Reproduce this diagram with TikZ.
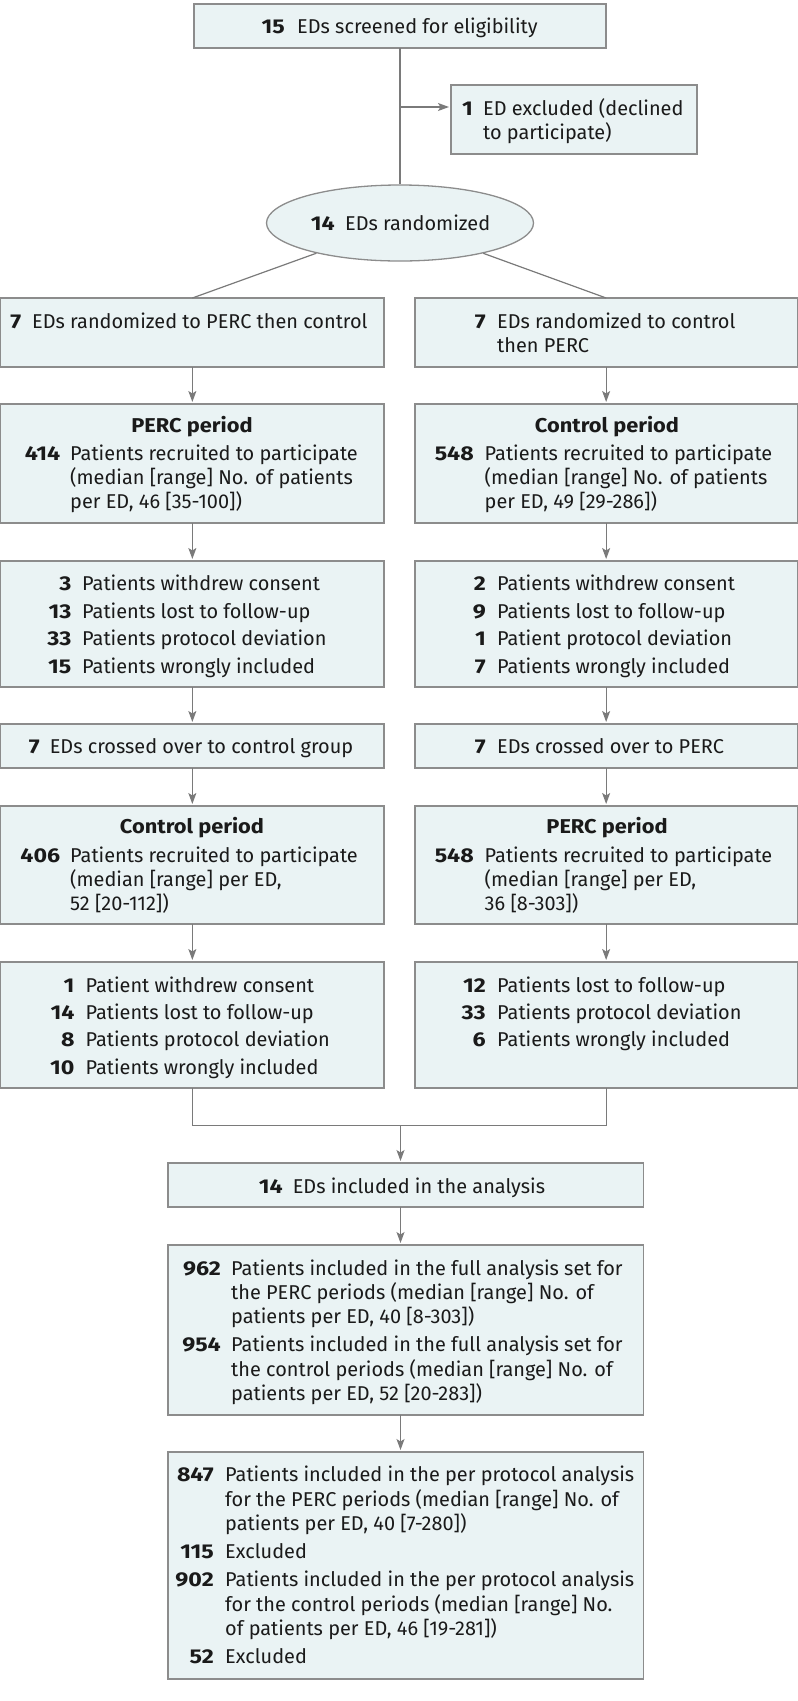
\documentclass[tikz,border=0pt]{standalone}
\usepackage{fontspec}
\setmainfont{Fira Sans}[FakeStretch=0.995]
\newfontfamily\numfont{Fira Sans}[FakeStretch=1.16]
\newfontfamily\ttlfont{Fira Sans}[FakeStretch=1.09]
\usetikzlibrary{arrows.meta,shapes.geometric}
\definecolor{boxfill}{HTML}{EAF3F4}
\definecolor{boxline}{HTML}{8C8C8C}
\definecolor{connc}{HTML}{7A7A7A}
\definecolor{ink}{HTML}{1A1A1A}
\tikzset{
 box/.style={draw=boxline, fill=boxfill, line width=1.3pt, inner sep=0pt, outer sep=0pt, anchor=north west},
 num/.style={font=\fontsize{20}{24.4}\selectfont\numfont\bfseries, text=ink, inner sep=0pt, anchor=base east},
 txt/.style={font=\fontsize{20}{24.4}\selectfont, text=ink, inner sep=0pt, anchor=base west},
 ttl/.style={font=\fontsize{20}{24.4}\selectfont\ttlfont\bfseries, text=ink, inner sep=0pt, anchor=base},
 conn/.style={draw=connc, line width=1.2pt},
 arr/.style={conn, -{Stealth[length=11pt,width=8pt,inset=2.5pt]}, shorten >=2pt},
}
\newcommand\mybox[5]{\node[box, minimum width=#4pt, minimum height=#5pt] (#1) at (#2,#3) {};}
\newcommand\myentry[6]{\node[num] (#1n) at (#2,#4) {#5};
  \node[txt] (#1t) at (#3,#4) {\begin{tabular}[t]{@{}l@{}}#6\end{tabular}};}
\begin{document}
\begin{tikzpicture}[x=1pt,y=-1pt]
\useasboundingbox (0,0) rectangle (798,1701);
% boxes
\mybox{top}{194}{4}{412}{44}
\mybox{excl}{451}{85}{246}{69}
\node[draw=boxline, fill=boxfill, line width=1.3pt, ellipse, minimum width=267pt, minimum height=76pt, inner sep=0pt] (rand) at (400,223) {};
\mybox{L1}{0.7}{298}{383.3}{69}
\mybox{R1}{415}{298}{382.3}{69}
\mybox{L2}{0.7}{404}{383.3}{119}
\mybox{R2}{415}{404}{382.3}{119}
\mybox{L3}{0.7}{561}{383.3}{126}
\mybox{R3}{415}{561}{382.3}{126}
\mybox{L4}{0.7}{724}{383.3}{44}
\mybox{R4}{415}{724}{382.3}{44}
\mybox{L5}{0.7}{806}{383.3}{118}
\mybox{R5}{415}{806}{382.3}{118}
\mybox{L6}{0.7}{962}{383.3}{126}
\mybox{R6}{415}{962}{382.3}{126}
\mybox{A}{168}{1163}{475.5}{44}
\mybox{B}{168}{1245}{475.5}{170}
\mybox{C}{168}{1452}{475.5}{227}
% connectors
\coordinate (m) at (400.5,1125.5);
\coordinate (br) at (400,107);
\draw[conn] (top.south) -- (rand.north);
\draw[arr] (br) -- (br -| excl.west);
\draw[conn] (rand) -- (L1.north);
\draw[conn] (rand) -- (R1.north);
\draw[arr] (L1) -- (L2);
\draw[arr] (L2) -- (L3);
\draw[arr] (L3) -- (L4);
\draw[arr] (L4) -- (L5);
\draw[arr] (L5) -- (L6);
\draw[arr] (R1) -- (R2);
\draw[arr] (R2) -- (R3);
\draw[arr] (R3) -- (R4);
\draw[arr] (R4) -- (R5);
\draw[arr] (R5) -- (R6);
\draw[conn] (L6.south) |- (m) -| (R6.south);
\draw[arr] (m) -- (m |- A.north);
\draw[arr] (m |- A.south) -- (m |- B.north);
\draw[arr] (m |- B.south) -- (m |- C.north);
% texts
\myentry{top}{285}{297}{33}{15}{EDs screened for eligibility}
\myentry{excl}{473}{483}{115}{1}{ED excluded (declined\\to participate)}
\myentry{rand}{335}{345}{230}{14}{EDs randomized}
\myentry{L1}{21.5}{32}{328}{7}{EDs randomized to PERC then control}
\myentry{R1}{486}{497}{328}{7}{EDs randomized to control\\then PERC}
\node[ttl] (L2h) at (192,432) {PERC period};
\myentry{L2}{60.4}{70}{460}{414}{Patients recruited to participate\\(median [range] No. of patients\\per ED, 46 [35-100])}
\node[ttl] (R2h) at (607,432) {Control period};
\myentry{R2}{474}{484.5}{460}{548}{Patients recruited to participate\\(median [range] No. of patients\\per ED, 49 [29-286])}
\myentry{L3a}{71.6}{82}{590.7}{3}{Patients withdrew consent}
\myentry{L3b}{71.6}{82}{618.2}{13}{Patients lost to follow-up}
\myentry{L3c}{71.6}{82}{645.7}{33}{Patients protocol deviation}
\myentry{L3d}{71.6}{82}{673.2}{15}{Patients wrongly included}
\myentry{R3a}{486}{497}{590.7}{2}{Patients withdrew consent}
\myentry{R3b}{486}{497}{618.2}{9}{Patients lost to follow-up}
\myentry{R3c}{486}{497}{645.7}{1}{Patient protocol deviation}
\myentry{R3d}{486}{497}{673.2}{7}{Patients wrongly included}
\myentry{L4}{40}{49.6}{753}{7}{EDs crossed over to control group}
\myentry{R4}{486}{497}{753}{7}{EDs crossed over to PERC}
\node[ttl] (L5h) at (192,833) {Control period};
\myentry{L5}{60.4}{70}{862}{406}{Patients recruited to participate\\(median [range] per ED,\\52 [20-112])}
\node[ttl] (R5h) at (607,833) {PERC period};
\myentry{R5}{474}{484.5}{862}{548}{Patients recruited to participate\\(median [range] per ED,\\36 [8-303])}
\myentry{L6a}{74.7}{85.4}{992}{1}{Patient withdrew consent}
\myentry{L6b}{74.7}{85.4}{1019.3}{14}{Patients lost to follow-up}
\myentry{L6c}{74.7}{85.4}{1046.6}{8}{Patients protocol deviation}
\myentry{L6d}{74.7}{85.4}{1074}{10}{Patients wrongly included}
\myentry{R6a}{486}{497}{992}{12}{Patients lost to follow-up}
\myentry{R6b}{486}{497}{1019.3}{33}{Patients protocol deviation}
\myentry{R6c}{486}{497}{1046.6}{6}{Patients wrongly included}
\myentry{A}{283}{292.6}{1193}{14}{EDs included in the analysis}
\myentry{Ba}{221}{231}{1275}{962}{Patients included in the full analysis set for\\the PERC periods (median [range] No. of\\patients per ED, 40 [8-303])}
\myentry{Bb}{221}{231}{1351.7}{954}{Patients included in the full analysis set for\\the control periods (median [range] No. of\\patients per ED, 52 [20-283])}
\myentry{Ca}{214}{225}{1481.7}{847}{Patients included in the per protocol analysis\\for the PERC periods (median [range] No. of\\patients per ED, 40 [7-280])}
\myentry{Cb}{214}{225}{1558}{115}{Excluded}
\myentry{Cc}{214}{225}{1586.7}{902}{Patients included in the per protocol analysis\\for the control periods (median [range] No.\\of patients per ED, 46 [19-281])}
\myentry{Cd}{214}{225}{1663}{52}{Excluded}
\end{tikzpicture}
\end{document}
